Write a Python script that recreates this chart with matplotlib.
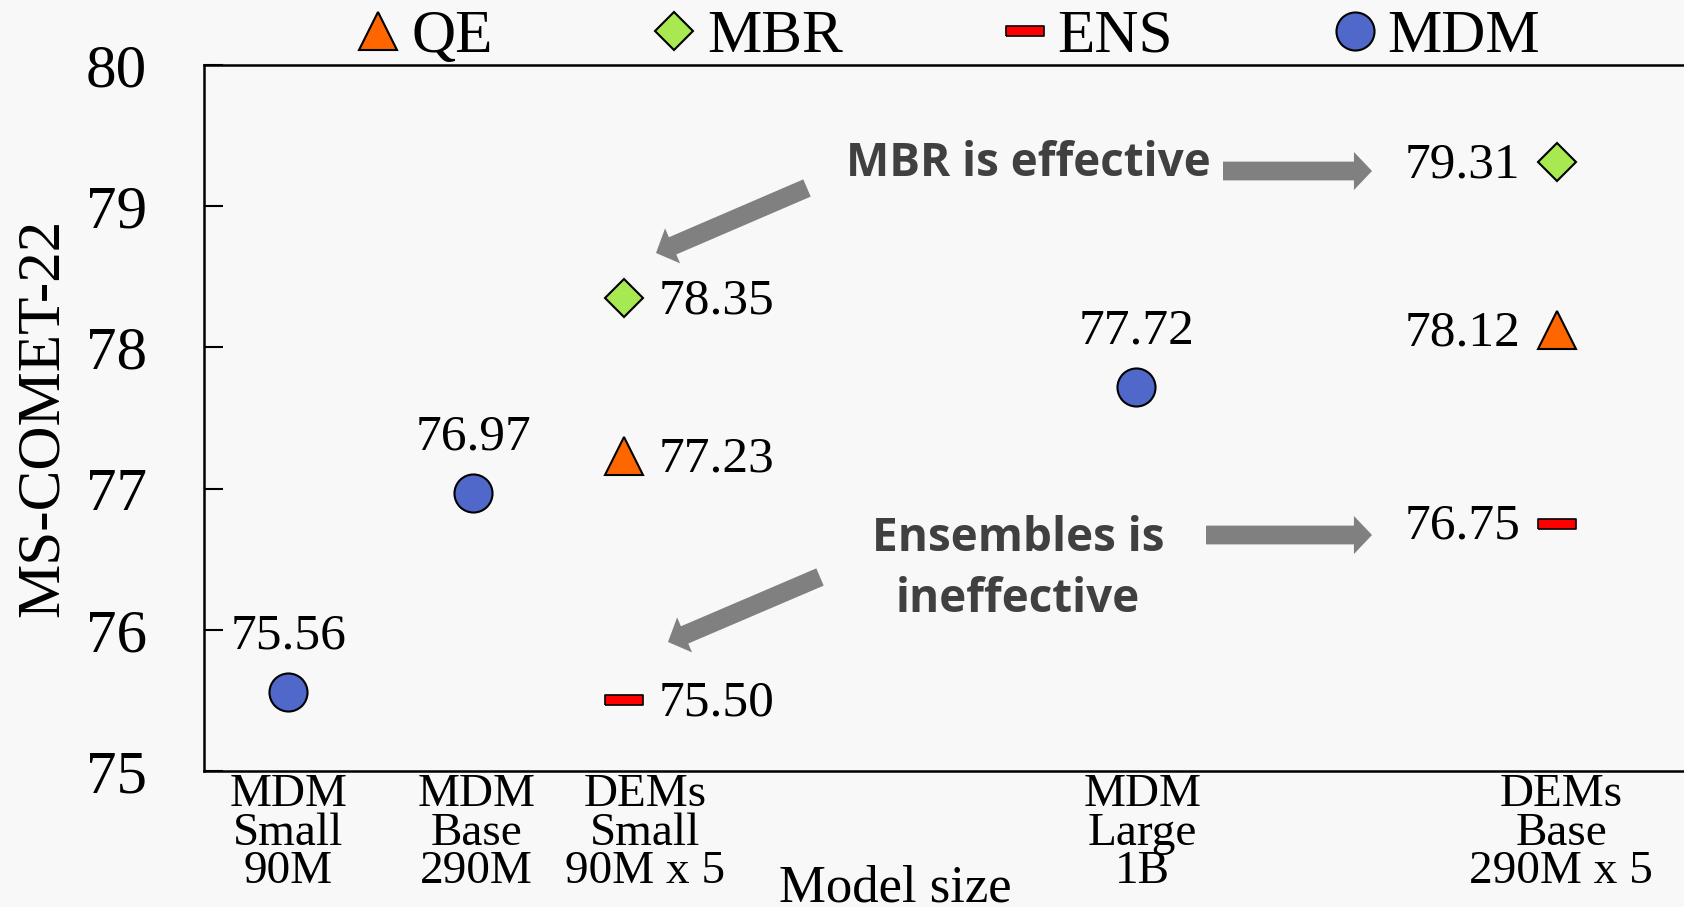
import numpy as np
import matplotlib
matplotlib.use("Agg")
import matplotlib.pyplot as plt
from matplotlib.lines import Line2D

# data -------------------------------------------------------------------------
models = ['MDM\nSmall\n90M', 'MDM\nBase\n290M', 'DEMs\nSmall\n90M x 5',
          'MDM\nLarge\n1B', 'DEMs\nBase\n290M x 5']
model_x = [0.57, 1.82, 2.84, 6.30, 9.14]      # position along the x axis
label_x = [0.57, 1.84, 2.98, 6.34, 9.17]      # tick label centres

mdm_idx = [0, 1, 3]
mdm_vals = [75.56, 76.97, 77.72]

dem_idx = [2, 4]
qe_vals = [77.23, 78.12]
mbr_vals = [78.35, 79.31]
ens_vals = [75.50, 76.75]

yticks = [75, 76, 77, 78, 79, 80]

# style ------------------------------------------------------------------------
BG = '#f8f8f8'
C_QE = '#ff6600'
C_MBR = '#a8e851'
C_ENS = '#ff0000'
C_MDM = '#4f68c9'
GRAY = '#808080'
SERIF = 'Liberation Serif'

# flat bar marker for the ensembles
ens_marker = [(-1, -0.24), (1, -0.24), (1, 0.24), (-1, 0.24), (-1, -0.24)]

plt.rcParams['font.family'] = SERIF

fig = plt.figure(figsize=(16.84, 9.07), dpi=100, facecolor=BG)
ax = fig.add_axes([204 / 1684, 1 - 771 / 907, 1 - 204 / 1684, (771 - 65) / 907])
ax.set_facecolor(BG)

mdm_x = [model_x[i] for i in mdm_idx]
dem_x = [model_x[i] for i in dem_idx]

ax.plot(mdm_x, mdm_vals, 'o', ms=27.4, mfc=C_MDM, mec='black', mew=1.5, zorder=3)
ax.plot(dem_x, qe_vals, '^', ms=27.4, mfc=C_QE, mec='black', mew=1.5, zorder=3)
ax.plot(dem_x, mbr_vals, 'D', ms=19.3, mfc=C_MBR, mec='black', mew=1.5, zorder=3)
ax.plot(dem_x, ens_vals, marker=ens_marker, ls='none', ms=27.4, mfc=C_ENS,
        mec='black', mew=1.2, zorder=3)

# value labels -------------------------------------------------------------------
for x, v in zip(mdm_x, mdm_vals):
    ax.annotate(f'{v:.2f}', (x, v), xytext=(0, 40), textcoords='offset points',
                ha='center', va='center', fontsize=37)
for vals in (qe_vals, mbr_vals, ens_vals):
    ax.annotate(f'{vals[0]:.2f}', (dem_x[0], vals[0]), xytext=(25, -2),
                textcoords='offset points', ha='left', va='center', fontsize=37)
    ax.annotate(f'{vals[1]:.2f}', (dem_x[1], vals[1]), xytext=(-26, -2),
                textcoords='offset points', ha='right', va='center', fontsize=37)

# axes -------------------------------------------------------------------------
ax.set_xlim(0, 10)
ax.set_ylim(75, 80)
ax.set_yticks(yticks)
ax.set_xticks(label_x)
ax.set_xticklabels(models, fontsize=34, linespacing=0.88)
ax.tick_params(axis='x', length=0, pad=2)
ax.tick_params(axis='y', direction='in', length=14, width=1.5, pad=41, labelsize=44)
ax.spines['right'].set_visible(False)
for s in ('left', 'top', 'bottom'):
    ax.spines[s].set_linewidth(1.8)

fig.text(43 / 1684, 1 - 418 / 907, 'MS-COMET-22', rotation=90, ha='center',
         va='center', fontsize=44)
fig.text(895 / 1684, 6 / 907, 'Model size', ha='center', va='baseline', fontsize=38)

# legend -----------------------------------------------------------------------
handles = [
    Line2D([], [], ls='none', marker='^', ms=27.4, mfc=C_QE, mec='black', mew=1.5),
    Line2D([], [], ls='none', marker='D', ms=19.3, mfc=C_MBR, mec='black', mew=1.5),
    Line2D([], [], ls='none', marker=ens_marker, ms=27.4, mfc=C_ENS, mec='black', mew=1.2),
    Line2D([], [], ls='none', marker='o', ms=27.4, mfc=C_MDM, mec='black', mew=1.5),
]
fig.legend(handles, ['QE', 'MBR', 'ENS', 'MDM'], ncol=4, frameon=False,
           loc='center', bbox_to_anchor=(947 / 1684, 1 - 37 / 907),
           fontsize=44, handlelength=0.8, handletextpad=0.14, columnspacing=2.57,
           borderpad=0, borderaxespad=0)

# annotations ------------------------------------------------------------------
ann_font = dict(family=['Open Sans', 'DejaVu Sans'], weight='bold', color='#404040',
                fontsize=33, ha='center', va='center')
fig.text(1028 / 1684, 1 - 164 / 907, 'MBR is effective', **ann_font)
fig.text(1018 / 1684, 1 - 569 / 907, 'Ensembles is\nineffective', linespacing=1.39,
         **ann_font)

arrows = [((807, 188), (656, 253)),
          ((1223, 171), (1372, 171)),
          ((1206, 535), (1372, 535)),
          ((820, 577), (668, 642))]
for (x0, y0), (x1, y1) in arrows:
    fig.add_artist(matplotlib.patches.FancyArrowPatch(
        (x0 / 1684, 1 - y0 / 907), (x1 / 1684, 1 - y1 / 907),
        transform=fig.transFigure,
        arrowstyle='simple,head_length=13,head_width=27.4,tail_width=13.5',
        mutation_scale=1, color=GRAY, shrinkA=0, shrinkB=0, lw=0))

fig.savefig('out.png', dpi=100, facecolor=BG)
